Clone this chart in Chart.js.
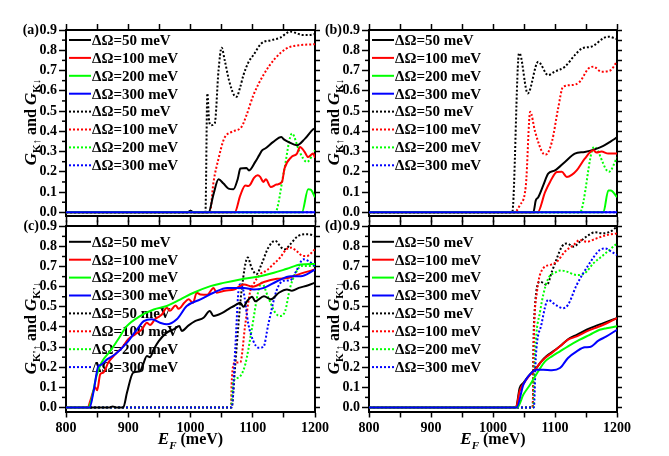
<!DOCTYPE html>
<html>
<head>
<meta charset="utf-8">
<script src="https://cdn.jsdelivr.net/npm/chart.js@4.4.0/dist/chart.umd.min.js"></script>
<style>
  html, body { margin: 0; padding: 0; background: #fff; }
  #wrap { position: relative; width: 669px; height: 456px; }
  #wrap canvas { position: absolute; left: 0; top: 0; }
</style>
</head>
<body>
<div id="wrap">
  <canvas id="pa" width="669" height="456"></canvas>
  <canvas id="pb" width="669" height="456"></canvas>
  <canvas id="pc" width="669" height="456"></canvas>
  <canvas id="pd" width="669" height="456"></canvas>
</div>
<script>
// legend labels (same in every panel: 4 solid, then 4 dotted)
const seriesLabels = ['ΔΩ=50 meV', 'ΔΩ=100 meV', 'ΔΩ=200 meV', 'ΔΩ=300 meV',
                      'ΔΩ=50 meV', 'ΔΩ=100 meV', 'ΔΩ=200 meV', 'ΔΩ=300 meV'];

// tick values
const xTicks = [800, 850, 900, 950, 1000, 1050, 1100, 1150, 1200];
const yTicks = [0, 0.1, 0.2, 0.3, 0.4, 0.5, 0.6, 0.7, 0.8, 0.9];
const yMinorTicks = [0.05, 0.15, 0.25, 0.35, 0.45, 0.55, 0.65, 0.75, 0.85];
const yRightTicks = [0, 0.05, 0.1, 0.15, 0.2, 0.25, 0.3, 0.35, 0.4, 0.45, 0.5, 0.55, 0.6, 0.65, 0.7, 0.75, 0.8, 0.85, 0.9];

// panel (a): [E_F (meV), G]
const a50 = [[800,0],[995,0],[1000,0.008],[1005,0],[1029,0],[1037,0.09],[1045,0.163],[1053,0.142],[1061,0.117],[1069,0.114],[1076,0.166],[1080,0.216],[1090,0.219],[1094,0.207],[1104,0.249],[1110,0.28],[1115,0.306],[1120,0.315],[1133,0.348],[1146,0.372],[1150,0.36],[1157,0.348],[1171,0.331],[1184,0.364],[1197,0.41],[1200,0.415]];
const a100 = [[800,0],[1071,0],[1080,0.084],[1088,0.133],[1093,0.13],[1096,0.137],[1102,0.17],[1108,0.183],[1112,0.175],[1117,0.15],[1121,0.163],[1129,0.125],[1138,0.137],[1147,0.15],[1151,0.216],[1162,0.273],[1171,0.29],[1176,0.323],[1183,0.3],[1189,0.273],[1197,0.29],[1200,0.27]];
const a200 = [[800,0],[1179,0],[1189,0.114],[1193,0.112],[1200,0.075]];
const a300 = [[800,0],[1200,0]];
const a50d = [[800,0],[995,0],[1000,0.008],[1005,0],[1024,0],[1027,0.587],[1030,0.45],[1033,0.43],[1039,0.44],[1045,0.7],[1050,0.813],[1055,0.75],[1062,0.65],[1070,0.578],[1074,0.57],[1080,0.62],[1085,0.677],[1093,0.74],[1101,0.776],[1114,0.834],[1130,0.85],[1144,0.862],[1160,0.892],[1170,0.885],[1179,0.875],[1190,0.875],[1200,0.88]];
const a100d = [[800,0],[1031,0],[1037,0.15],[1045,0.265],[1054,0.364],[1066,0.397],[1082,0.422],[1090,0.48],[1101,0.578],[1117,0.677],[1136,0.76],[1155,0.81],[1168,0.822],[1200,0.83]];
const a200d = [[800,0],[1136,0],[1150,0.2],[1163,0.389],[1175,0.3],[1187,0.249],[1200,0.306]];
const a300d = [[800,0],[1200,0]];

// panel (b)
const b50 = [[800,0],[1065,0],[1069,0.059],[1073,0.075],[1081,0.133],[1089,0.191],[1100,0.207],[1116,0.249],[1132,0.29],[1148,0.298],[1164,0.311],[1178,0.328],[1190,0.35],[1200,0.37]];
const b100 = [[800,0],[1072,0],[1084,0.1],[1092,0.15],[1103,0.199],[1111,0.2],[1119,0.175],[1127,0.185],[1135,0.207],[1148,0.265],[1162,0.306],[1167,0.295],[1175,0.3],[1186,0.29],[1200,0.29]];
const b200 = [[800,0],[1178,0],[1186,0.108],[1190,0.108],[1200,0.075]];
const b300 = [[800,0],[1200,0]];
const b50d = [[800,0],[1031,0],[1042,0.785],[1044,0.78],[1056,0.587],[1073,0.743],[1089,0.677],[1099,0.694],[1116,0.719],[1132,0.776],[1144,0.81],[1159,0.818],[1178,0.859],[1186,0.867],[1200,0.855]];
const b100d = [[800,0],[1034,0],[1043,0.034],[1053,0.133],[1060,0.496],[1068,0.397],[1081,0.29],[1085,0.285],[1095,0.348],[1105,0.512],[1113,0.62],[1127,0.628],[1140,0.645],[1154,0.71],[1162,0.719],[1175,0.694],[1189,0.7],[1200,0.745]];
const b200d = [[800,0],[1140,0],[1163,0.323],[1187,0.2],[1200,0.27]];
const b300d = [[800,0],[1200,0]];

// panel (c)
const c50 = [[800,0],[870,0],[875,0.005],[880,0],[892,0],[898,0.074],[908,0.173],[919,0.18],[923,0.206],[930,0.256],[935,0.25],[941,0.289],[949,0.33],[962,0.372],[973,0.388],[982,0.405],[986,0.38],[997,0.408],[1008,0.43],[1021,0.446],[1031,0.479],[1037,0.455],[1051,0.47],[1064,0.495],[1070,0.504],[1080,0.52],[1085,0.5],[1091,0.528],[1099,0.55],[1104,0.528],[1118,0.553],[1129,0.537],[1142,0.57],[1155,0.586],[1163,0.58],[1174,0.594],[1188,0.606],[1200,0.62]];
const c100 = [[800,0],[835,0],[839,0.033],[847,0.1],[850,0.085],[855,0.165],[860,0.173],[868,0.223],[879,0.264],[890,0.297],[900,0.339],[911,0.363],[922,0.388],[930,0.421],[935,0.41],[943,0.438],[954,0.462],[962,0.495],[967,0.48],[976,0.507],[981,0.49],[990,0.52],[997,0.537],[1004,0.52],[1010,0.57],[1016,0.561],[1027,0.56],[1037,0.594],[1042,0.57],[1055,0.58],[1070,0.586],[1086,0.611],[1100,0.6],[1118,0.623],[1139,0.639],[1158,0.644],[1177,0.665],[1200,0.685]];
const c200 = [[800,0],[836,0],[841,0.04],[849,0.157],[857,0.223],[871,0.28],[882,0.33],[898,0.405],[919,0.454],[941,0.487],[962,0.504],[984,0.537],[1005,0.57],[1032,0.603],[1053,0.619],[1080,0.636],[1112,0.652],[1134,0.669],[1155,0.689],[1177,0.71],[1200,0.713]];
const c300 = [[800,0],[838,0],[844,0.075],[852,0.206],[855,0.21],[866,0.239],[879,0.264],[898,0.322],[914,0.388],[925,0.429],[938,0.438],[951,0.421],[962,0.413],[978,0.438],[994,0.504],[1016,0.537],[1037,0.57],[1059,0.594],[1075,0.594],[1086,0.594],[1102,0.586],[1118,0.594],[1139,0.627],[1161,0.652],[1177,0.652],[1200,0.685]];
const c50d = [[800,0],[1066,0],[1071.5,0.197],[1077,0.413],[1082,0.579],[1092,0.745],[1098,0.695],[1106,0.662],[1114,0.711],[1125,0.794],[1136,0.828],[1146,0.794],[1152,0.786],[1160,0.81],[1173,0.852],[1189,0.861],[1200,0.852]];
const c100d = [[800,0],[1065,0],[1066,0.114],[1071,0.222],[1080,0.225],[1088,0.413],[1096,0.579],[1101,0.612],[1112,0.662],[1122,0.68],[1133,0.711],[1144,0.745],[1154,0.786],[1162,0.794],[1170,0.778],[1181,0.753],[1187,0.753],[1200,0.786]];
const c200d = [[800,0],[1065,0],[1069,0.131],[1077,0.148],[1088,0.214],[1098,0.38],[1109,0.579],[1114,0.62],[1125,0.546],[1136,0.471],[1144,0.454],[1152,0.479],[1160,0.595],[1168,0.662],[1179,0.703],[1200,0.703]];
const c300d = [[800,0],[1066,0],[1072,0.3],[1077,0.579],[1080,0.612],[1085,0.58],[1093,0.413],[1101,0.33],[1109,0.297],[1117,0.3],[1125,0.413],[1138,0.579],[1149,0.629],[1160,0.632],[1170,0.678],[1181,0.736],[1189,0.728],[1200,0.703]];

// panel (d)
const d50 = [[800,0],[1037,0],[1043,0.097],[1049,0.122],[1057,0.155],[1062,0.172],[1070,0.196],[1078,0.229],[1086,0.254],[1097,0.279],[1111,0.312],[1124,0.345],[1135,0.361],[1151,0.386],[1164,0.403],[1178,0.419],[1200,0.444]];
const d100 = [[800,0],[1037,0],[1043,0.081],[1052,0.13],[1060,0.163],[1068,0.188],[1076,0.221],[1084,0.246],[1095,0.271],[1108,0.304],[1121,0.337],[1135,0.353],[1151,0.378],[1164,0.394],[1178,0.411],[1200,0.444]];
const d200 = [[800,0],[1039,0],[1049,0.064],[1060,0.114],[1073,0.18],[1084,0.229],[1095,0.254],[1108,0.279],[1121,0.304],[1140,0.337],[1156,0.361],[1172,0.386],[1183,0.394],[1200,0.403]];
const d300 = [[800,0],[1038,0],[1049,0.114],[1057,0.155],[1065,0.18],[1070,0.188],[1081,0.188],[1095,0.185],[1108,0.196],[1121,0.246],[1135,0.279],[1148,0.299],[1156,0.3],[1170,0.332],[1183,0.353],[1200,0.386]];
const d50d = [[800,0],[1064,0],[1066,0.411],[1076,0.625],[1087,0.609],[1095,0.675],[1103,0.741],[1111,0.799],[1119,0.815],[1130,0.799],[1140,0.823],[1154,0.856],[1164,0.87],[1178,0.865],[1189,0.873],[1200,0.898]];
const d100d = [[800,0],[1064,0],[1066,0.361],[1071,0.576],[1081,0.691],[1092,0.708],[1103,0.724],[1116,0.774],[1130,0.807],[1140,0.832],[1151,0.823],[1167,0.84],[1183,0.856],[1200,0.865]];
const d200d = [[800,0],[1065,0],[1068,0.279],[1076,0.477],[1087,0.625],[1103,0.675],[1111,0.68],[1119,0.675],[1135,0.658],[1148,0.667],[1162,0.716],[1178,0.757],[1200,0.815]];
const d300d = [[800,0],[1066,0],[1069,0.246],[1078,0.411],[1089,0.535],[1097,0.518],[1105,0.502],[1113,0.493],[1121,0.51],[1135,0.609],[1154,0.708],[1172,0.782],[1181,0.79],[1191,0.774],[1200,0.757]];

const colors = ['#000000', '#ff0000', '#00ff00', '#0000ff'];
const SERIF = '"Liberation Serif", "Times New Roman", serif';
const W = 669, H = 456;

// draw a run of text pieces (normal, italic, subscript) centered at (cx, cy)
function drawRuns(ctx, runs, cx, cy, rotate) {
  ctx.save();
  ctx.translate(cx, cy);
  if (rotate) ctx.rotate(-Math.PI / 2);
  let total = 0;
  runs.forEach(r => { ctx.font = r.font; total += ctx.measureText(r.t).width; });
  let x = -total / 2;
  ctx.fillStyle = '#000';
  ctx.textBaseline = 'alphabetic';
  ctx.textAlign = 'left';
  runs.forEach(r => {
    ctx.font = r.font;
    ctx.fillText(r.t, x, 6 + (r.dy || 0));
    x += ctx.measureText(r.t).width;
  });
  ctx.restore();
}

const decor = {
  id: 'decor',
  beforeDatasetsDraw(chart, args, o) {
    const ctx = chart.ctx, a = chart.chartArea;
    ctx.save();
    chart.data.datasets.forEach((ds, i) => {
      const y = a.top + o.legendTop + i * 17.9;
      ctx.strokeStyle = ds.borderColor;
      ctx.lineWidth = 2;
      ctx.setLineDash(ds.borderDash || []);
      ctx.beginPath();
      ctx.moveTo(a.left + 3, y);
      ctx.lineTo(a.left + 25, y);
      ctx.stroke();
      ctx.setLineDash([]);
      ctx.fillStyle = '#000';
      ctx.font = 'bold 15px ' + SERIF;
      ctx.textAlign = 'left';
      ctx.textBaseline = 'middle';
      ctx.fillText(ds.label, a.left + 26, y + 1);
    });
    ctx.restore();
  },
  afterDraw(chart, args, o) {
    const ctx = chart.ctx, a = chart.chartArea, ys = chart.scales.y;
    ctx.save();
    // short minor ticks on the left axis
    ctx.strokeStyle = '#000';
    ctx.lineWidth = 1.5;
    yMinorTicks.forEach(v => {
      const p = ys.getPixelForValue(v);
      ctx.beginPath();
      ctx.moveTo(a.left - 4, p);
      ctx.lineTo(a.left, p);
      ctx.stroke();
    });
    // panel letter
    ctx.fillStyle = '#000';
    ctx.font = 'bold 14px ' + SERIF;
    ctx.textAlign = 'right';
    ctx.textBaseline = 'middle';
    ctx.fillText(o.letter, a.left - 27, ys.getPixelForValue(0.9));
    // y title
    const big = 'italic bold 17px ' + SERIF, sub = 'bold 11px ' + SERIF, nrm = 'bold 16px ' + SERIF;
    drawRuns(ctx, [
      {t: 'G', font: big}, {t: o.sub + '↑', font: sub, dy: 4},
      {t: ' and ', font: nrm},
      {t: 'G', font: big}, {t: o.sub + '↓', font: sub, dy: 4}
    ], a.left - 36, o.titleY, true);
    // x title
    if (o.xTitle) {
      drawRuns(ctx, [
        {t: 'E', font: 'italic bold 17px ' + SERIF}, {t: 'F', font: 'italic bold 11px ' + SERIF, dy: 5},
        {t: ' (meV)', font: 'bold 16px ' + SERIF}
      ], (a.left + a.right) / 2, 437.5, false);
    }
    ctx.restore();
  }
};

function makePanel(id, rect, series, letter, sub, labels, legendTop, titleY) {
  const datasets = series.map((pts, i) => ({
    label: seriesLabels[i],
    data: pts.map(p => ({x: p[0], y: p[1]})),
    borderColor: colors[i % 4],
    backgroundColor: colors[i % 4],
    borderWidth: 2,
    borderDash: i >= 4 ? [2, 2] : [],
    order: i < 4 ? 3 - i : 11 - i,
    pointRadius: 0,
    cubicInterpolationMode: 'monotone',
    fill: false
  }));
  const tickFont = {family: SERIF, size: 14, weight: 'bold'};
  const bottomH = labels ? 30 : 7;
  new Chart(document.getElementById(id), {
    type: 'line',
    data: {datasets},
    options: {
      responsive: false,
      animation: false,
      layout: {padding: {left: rect.l - 40, right: W - rect.r - 7, top: rect.t - 7, bottom: H - rect.b - bottomH}},
      plugins: {
        legend: {display: false},
        tooltip: {enabled: false},
        decor: {letter, sub, xTitle: labels, legendTop, titleY}
      },
      scales: {
        x: {
          type: 'linear', position: 'bottom', min: 800, max: 1200,
          afterBuildTicks: s => { s.ticks = xTicks.map(v => ({value: v})); },
          afterFit: s => { s.height = bottomH; },
          ticks: {display: labels, font: tickFont, color: '#000', padding: 2, maxRotation: 0, autoSkip: false,
                  callback: v => (v % 100 === 0 ? String(v) : '')},
          grid: {drawOnChartArea: false, tickLength: 6, tickWidth: 1.5, tickColor: '#000'},
          border: {color: '#000', width: 2}
        },
        xTop: {
          type: 'linear', position: 'top', min: 800, max: 1200,
          afterBuildTicks: s => { s.ticks = xTicks.map(v => ({value: v})); },
          afterFit: s => { s.height = 7; },
          ticks: {display: false},
          grid: {drawOnChartArea: false, tickLength: 6, tickWidth: 1.5, tickColor: '#000'},
          border: {color: '#000', width: 2}
        },
        y: {
          type: 'linear', position: 'left', min: -0.02, max: 0.9,
          afterBuildTicks: s => { s.ticks = yTicks.map(v => ({value: v})); },
          afterFit: s => { s.width = 40; },
          ticks: {font: tickFont, color: '#000', padding: 2, callback: v => v.toFixed(1)},
          grid: {drawOnChartArea: false, tickLength: 7, tickWidth: 1.5, tickColor: '#000'},
          border: {color: '#000', width: 2}
        },
        yRight: {
          type: 'linear', position: 'right', min: -0.02, max: 0.9,
          afterBuildTicks: s => { s.ticks = yRightTicks.map(v => ({value: v})); },
          afterFit: s => { s.width = 7; },
          ticks: {display: false},
          grid: {drawOnChartArea: false, tickLength: 5, tickWidth: 1.5, tickColor: '#000'},
          border: {color: '#000', width: 2}
        }
      }
    },
    plugins: [decor]
  });
}

makePanel('pa', {l: 66, r: 315, t: 30, b: 216.4}, [a50, a100, a200, a300, a50d, a100d, a200d, a300d], '(a)', 'K', false, 10, 122);
makePanel('pb', {l: 369, r: 617, t: 30, b: 216.4}, [b50, b100, b200, b300, b50d, b100d, b200d, b300d], '(b)', 'K', false, 10, 122);
makePanel('pc', {l: 66, r: 315, t: 226.3, b: 411.5}, [c50, c100, c200, c300, c50d, c100d, c200d, c300d], '(c)', "K'", true, 15.5, 328);
makePanel('pd', {l: 369, r: 617, t: 226.3, b: 411.5}, [d50, d100, d200, d300, d50d, d100d, d200d, d300d], '(d)', "K'", true, 15.5, 328);
</script>
</body>
</html>
